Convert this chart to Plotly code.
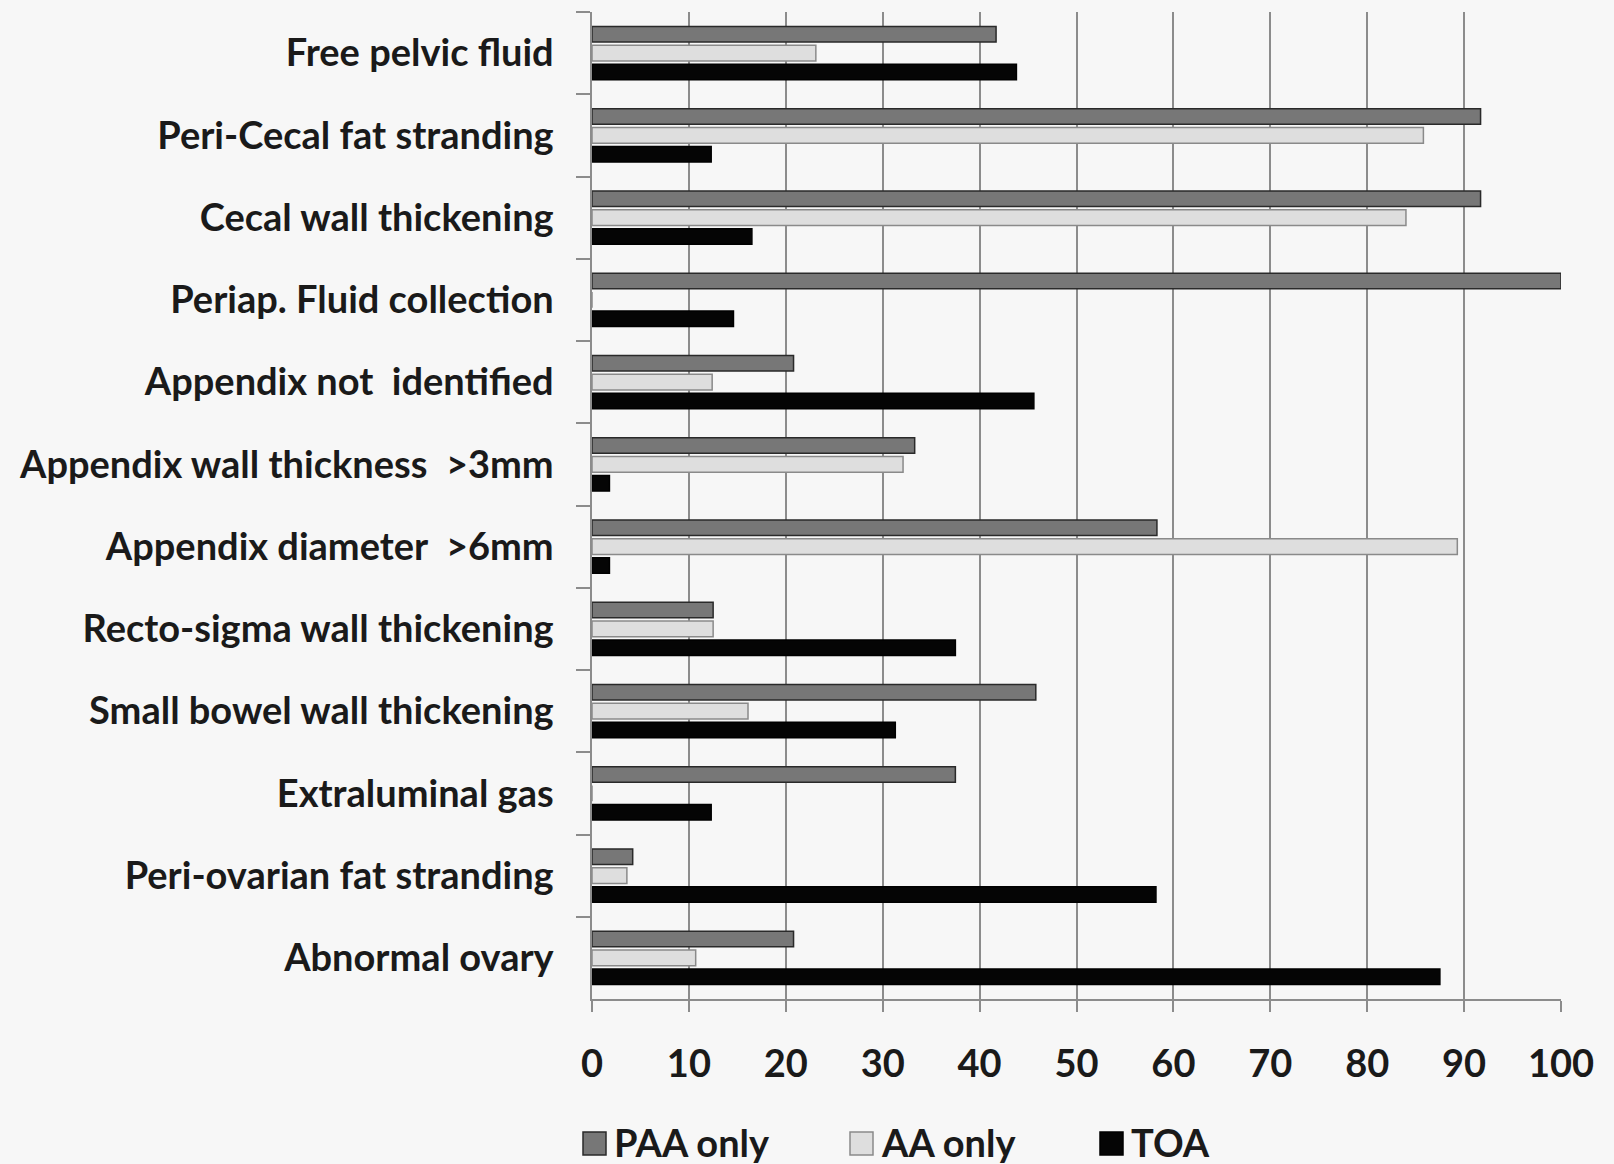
import plotly.graph_objects as go

categories = [
    "Free pelvic fluid",
    "Peri-Cecal fat stranding",
    "Cecal wall thickening",
    "Periap. Fluid collection",
    "Appendix not  identified",
    "Appendix wall thickness  >3mm",
    "Appendix diameter  >6mm",
    "Recto-sigma wall thickening",
    "Small bowel wall thickening",
    "Extraluminal gas",
    "Peri-ovarian fat stranding",
    "Abnormal ovary",
]
series_names = ["PAA only", "AA only", "TOA"]
paa_only = [41.7, 91.7, 91.7, 100, 20.8, 33.3, 58.3, 12.5, 45.8, 37.5, 4.2, 20.8]
aa_only = [23.1, 85.8, 84.0, 0, 12.4, 32.1, 89.3, 12.5, 16.1, 0, 3.6, 10.7]
toa = [43.8, 12.3, 16.5, 14.6, 45.6, 1.8, 1.8, 37.5, 31.3, 12.3, 58.2, 87.5]
x_ticks = [0, 10, 20, 30, 40, 50, 60, 70, 80, 90, 100]

values = [paa_only, aa_only, toa]
fills = ["#777777", "#dedede", "#050505"]
outlines = ["#2a2a2a", "#8a8a8a", "#000000"]

FONT = "Lato"
TXT = "#1a1a1a"
BG = "#f7f7f7"
W, H = 1614, 1164
ML, MR, MT, MB = 592, 53, 12, 165
PW, PH = W - ML - MR, H - MT - MB

fig = go.Figure()
for name, vals, fc, lc in zip(series_names, values, fills, outlines):
    fig.add_trace(go.Bar(
        y=categories, x=vals, name=name, orientation="h",
        marker=dict(color=fc, line=dict(color=lc, width=1.5)),
        showlegend=False,
    ))

# custom legend: squares + labels (pixel positions converted to paper coords)
leg_px = [583, 850, 1100]
sq = 23
for name, fc, lc, px in zip(series_names, fills, outlines, leg_px):
    x0 = (px - ML) / PW
    x1 = (px + sq - ML) / PW
    y0 = -(1132 - MT - PH) / PH
    y1 = -(1132 + sq - MT - PH) / PH
    fig.add_shape(type="rect", xref="paper", yref="paper",
                  x0=x0, x1=x1, y0=y0, y1=y1,
                  fillcolor=fc, line=dict(color=lc, width=1.5), layer="above")
    fig.add_annotation(xref="paper", yref="paper", x=(px + sq + 6 - ML) / PW,
                       y=-(1142 - MT - PH) / PH,
                       text=name, showarrow=False, xanchor="left", yanchor="middle",
                       font=dict(family=FONT, size=38, color=TXT, weight="bold"))

fig.update_layout(
    width=W, height=H,
    margin=dict(l=ML, r=MR, t=MT, b=MB),
    paper_bgcolor=BG, plot_bgcolor=BG,
    barmode="group", bargap=0.31, bargroupgap=0.18,
    font=dict(family=FONT, size=38, color=TXT),
    showlegend=False,
)
fig.update_xaxes(
    range=[0, 100], tickvals=x_ticks, ticktext=[str(t) for t in x_ticks],
    showgrid=True, gridcolor="#8c8c8c", gridwidth=1.5,
    showline=True, linecolor="#8c8c8c", linewidth=1.5,
    ticks="outside", ticklen=11, tickcolor="#8c8c8c", tickwidth=1.5,
    zeroline=False, ticklabelstandoff=20,
    tickfont=dict(family=FONT, size=38, color=TXT, weight="bold"),
)
fig.update_yaxes(
    autorange="reversed", showgrid=False,
    showline=True, linecolor="#8c8c8c", linewidth=1.5,
    ticks="outside", ticklen=14, tickcolor="#8c8c8c", tickwidth=1.5,
    tickson="boundaries", ticklabelstandoff=29,
    tickfont=dict(family=FONT, size=38, color=TXT, weight="bold"),
)

fig.write_html(
    "out.html",
    config={"displayModeBar": False},
    post_script="document.body.style.margin='0';document.body.style.background='#f7f7f7';",
)
